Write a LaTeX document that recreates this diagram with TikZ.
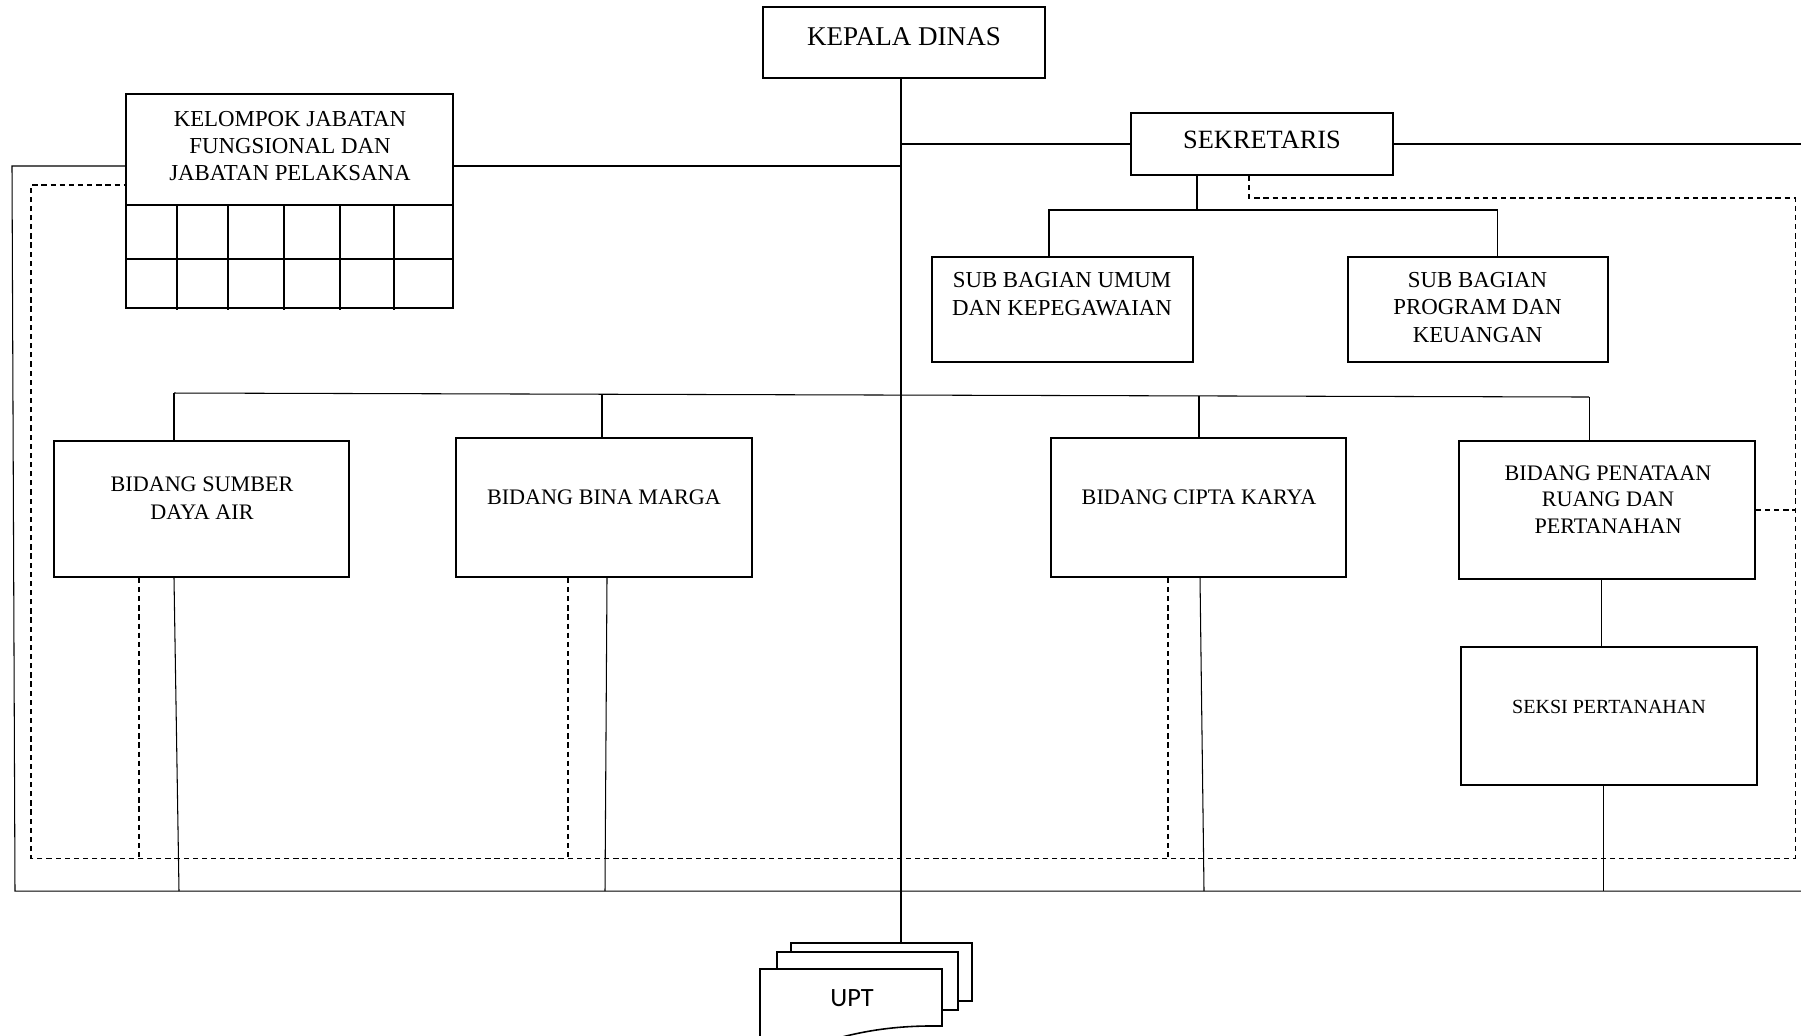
\documentclass[tikz,border=0pt]{standalone}
\usepackage{fontspec}
\setmainfont{Liberation Serif}
\newfontfamily\uptfont{Carlito}
\begin{document}
\begin{tikzpicture}[x=0.01cm,y=-0.01cm,
  box/.style={draw, line width=0.45pt, rectangle, inner sep=0pt},
  conn/.style={line width=0.3pt},
  dconn/.style={line width=0.3pt, dash pattern=on 1.5pt off 1.1pt},
  lbl/.style={align=center, inner sep=0pt, anchor=base},
  page/.style={draw, line width=0.45pt, fill=white}]
\useasboundingbox (0,0) rectangle (1801,1035);

% ---- boxes ----
\node[box, minimum width=2.82cm, minimum height=0.71cm] (kd)  at (904,42.5) {};
\node[box, minimum width=2.62cm, minimum height=0.62cm] (sek) at (1262,144) {};
\node[box, minimum width=3.27cm, minimum height=2.14cm] (kel) at (289.5,201) {};
\node[box, minimum width=2.61cm, minimum height=1.05cm] (sbu) at (1062.5,309.5) {};
\node[box, minimum width=2.60cm, minimum height=1.05cm] (sbp) at (1478,309.5) {};
\node[box, minimum width=2.95cm, minimum height=1.36cm] (sda) at (201.5,509) {};
\node[box, minimum width=2.96cm, minimum height=1.39cm] (bm)  at (604,507.5) {};
\node[box, minimum width=2.95cm, minimum height=1.39cm] (ck)  at (1198.5,507.5) {};
\node[box, minimum width=2.96cm, minimum height=1.38cm] (pr)  at (1607,510) {};
\node[box, minimum width=2.96cm, minimum height=1.38cm] (seksi) at (1609,716) {};

% ---- labels (base = baseline of the last line) ----
\node[lbl, font=\fontsize{7.7}{9}\selectfont] (tkd) at (904,45) {KEPALA DINAS};
\node[lbl, font=\fontsize{7.5}{9}\selectfont] (tsek) at (1262,148) {SEKRETARIS};
\node[lbl, font=\fontsize{6.5}{7.55}\selectfont] (tkel) at (290,180) {KELOMPOK JABATAN\\FUNGSIONAL DAN\\JABATAN PELAKSANA};
\node[lbl, font=\fontsize{6.5}{7.7}\selectfont] (tsbu) at (1062,315) {SUB BAGIAN UMUM\\DAN KEPEGAWAIAN};
\node[lbl, font=\fontsize{6.5}{7.7}\selectfont] (tsbp) at (1477.5,342) {SUB BAGIAN\\PROGRAM DAN\\KEUANGAN};
\node[lbl, font=\fontsize{6.3}{7.7}\selectfont] (tsda) at (202,519) {BIDANG SUMBER\\DAYA AIR};
\node[lbl, font=\fontsize{6.3}{7.7}\selectfont] (tbm) at (604,504) {BIDANG BINA MARGA};
\node[lbl, font=\fontsize{6.3}{7.7}\selectfont] (tck) at (1199,504) {BIDANG CIPTA KARYA};
\node[lbl, font=\fontsize{6.3}{7.5}\selectfont] (tpr) at (1608,533) {BIDANG PENATAAN\\RUANG DAN\\PERTANAHAN};
\node[lbl, font=\fontsize{5.7}{7}\selectfont] (tseksi) at (1609,713) {SEKSI PERTANAHAN};

% ---- grid under the functional group box ----
\draw[line width=0.45pt] (126,205) -- (453,205);
\draw[line width=0.45pt] (126,259) -- (453,259);
\foreach \gx in {177,228,284,340,394}
  \draw[line width=0.45pt] (\gx,205) -- (\gx,310);

% ---- UPT stack ----
\node[page, minimum width=1.81cm, minimum height=0.58cm] (upt) at (881.5,972) {};
\node[page, minimum width=1.81cm, minimum height=0.58cm] (upt2) at (867.5,981) {};
\draw[page] (760,1050) -- (760,969) -- (942,969) -- (942,1026)
  .. controls (885,1025) and (845,1034) .. (800,1050) -- cycle;
\node[lbl, font=\uptfont\fontsize{7.5}{9}\selectfont] (tupt) at (852,1006) {UPT};

% ---- helper coordinates ----
\coordinate (spine) at (901,0);
\coordinate (kelrow) at (0,166);
\coordinate (sekrow) at (0,144);
\coordinate (LT) at (12,166);
\coordinate (LB) at (15,891);
\coordinate (RB) at (1801,891);
\coordinate (RT) at (1801,144);
\coordinate (bidL) at (174,393);
\coordinate (bidR) at (1589,397);

% ---- solid lines ----
\draw[conn] (kd.south -| spine) -- (upt.north -| spine);
\draw[conn] (kel.east |- kelrow) -- (spine |- kelrow);
\draw[conn] (kel.west |- kelrow) -- (LT) -- (LB) -- (RB);
\draw[conn] (spine |- sekrow) -- (sek.west |- sekrow);
\draw[conn] (sek.east |- sekrow) -- (RT);
\draw[conn] (sek.south -| 1197,0) -- (1197,210);
\draw[conn] (sbu.north -| 1049,0) -- (1049,210) -- (1497,210) -- (sbp.north -| 1497,0);
\draw[conn] (bidL) -- (bidR);
\draw[conn] (bidL) -- (sda.north -| bidL);
\draw[conn] (602,394) -- (bm.north -| 602,0);
\draw[conn] (1199,396) -- (ck.north -| 1199,0);
\draw[conn] (bidR) -- (pr.north -| bidR);
\draw[conn] (pr.south -| 1601,0) -- (seksi.north -| 1601,0);
\draw[conn] (seksi.south -| 1603,0) -- (1603,891);
\draw[conn] (sda.south -| 174,0) -- (179,891);
\draw[conn] (bm.south -| 607,0) -- (605,891);
\draw[conn] (ck.south -| 1200,0) -- (1204,891);

% ---- dashed lines ----
\draw[dconn] (sek.south -| 1249,0) -- (1249,198) -- (1795,198) -- (1795,858)
  -- (31,858) -- (31,185) -- (kel.west |- 0,185);
\draw[dconn] (pr.east) -- (1795,510);
\draw[dconn] (sda.south -| 139,0) -- (139,858);
\draw[dconn] (bm.south -| 568,0) -- (568,858);
\draw[dconn] (ck.south -| 1168,0) -- (1168,858);
\end{tikzpicture}
\end{document}
